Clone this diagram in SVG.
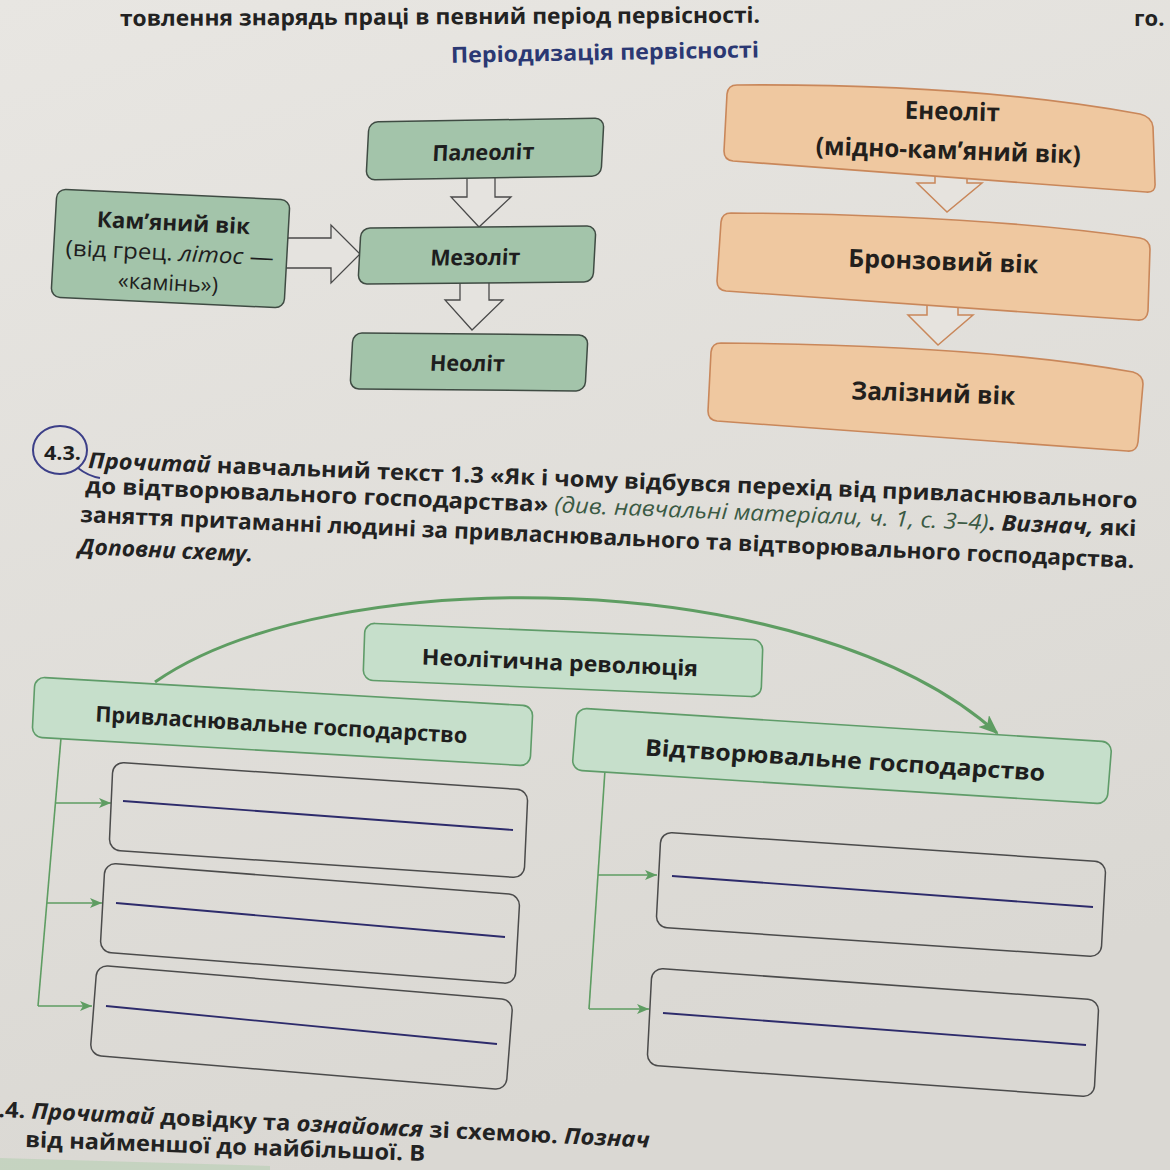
<svg xmlns="http://www.w3.org/2000/svg" width="1170" height="1170" viewBox="0 0 1170 1170">
<defs>
<linearGradient id="paper" x1="0" y1="0" x2="0.3" y2="1">
<stop offset="0" stop-color="#e8e6e2"/>
<stop offset="1" stop-color="#dad8d3"/>
</linearGradient>
<marker id="ah" markerWidth="12" markerHeight="10" refX="12" refY="5" orient="auto" markerUnits="userSpaceOnUse">
<path d="M0,0 L12,5 L0,10 L3,5 Z" fill="#5e9d62"/>
</marker>
<marker id="ahBig" markerWidth="20" markerHeight="16" refX="18" refY="8" orient="auto" markerUnits="userSpaceOnUse">
<path d="M0,0 L20,8 L0,16 L5,8 Z" fill="#5e9d62"/>
</marker>
<style>
text{font-family:"Open Sans","Noto Sans","DejaVu Sans",sans-serif;fill:#1e1e1e}
.lbl{font-weight:700;font-size:22px;text-anchor:middle}
.reg{font-weight:400}
.olbl{font-weight:700;font-size:25px;text-anchor:middle;fill:#231f1c}
.par{font-weight:700;font-size:22px;fill:#222}
.it{font-style:italic}
.src{font-style:italic;font-weight:500;fill:#3a5a44}
.gbox{fill:#a3c4aa;stroke:#3f4b43;stroke-width:1.5}
.lgbox{fill:#c6dfcb;stroke:#5f9c69;stroke-width:1.6}
.obox{fill:#efc8a0;stroke:#c9875a;stroke-width:1.6}
.ebox{fill:none;stroke:#4b4b4b;stroke-width:1.5}
.wline{stroke:#2d2b6b;stroke-width:1.8;fill:none}
.conn{stroke:#5e9d62;stroke-width:1.6;fill:none}
.barr{fill:#e5e3df;stroke:#4a4a4a;stroke-width:1.3}
.oarr{fill:#e6e3de;stroke:#c9875a;stroke-width:1.5}
</style>
</defs>
<rect x="0" y="0" width="1170" height="1170" fill="url(#paper)"/>
<polygon points="0,1158 270,1166 270,1170 0,1170" fill="#bcd0b8" opacity="0.7"/>

<!-- page texts -->
<text class="par" x="120" y="26" textLength="640" lengthAdjust="spacingAndGlyphs" transform="rotate(-0.3 120 26)">товлення знарядь праці в певний період первісності.</text>
<text class="par" x="1134" y="26">го.</text>
<text x="605" y="60" text-anchor="middle" font-weight="700" font-size="22" style="fill:#2b3873" textLength="308" lengthAdjust="spacingAndGlyphs" transform="rotate(-1 605 60)">Періодизація первісності</text>

<g id="task43">
<ellipse cx="60" cy="450" rx="27" ry="24" fill="none" stroke="#3c3f88" stroke-width="2"/>
<path d="M78,468 Q88,476 100,478" fill="none" stroke="#3c3f88" stroke-width="1.8"/>
<text x="44" y="460" font-weight="700" font-size="20" textLength="37" lengthAdjust="spacingAndGlyphs">4.3.</text>
<text class="par" x="88" y="468" textLength="1050" lengthAdjust="spacingAndGlyphs" transform="rotate(2.18 88 468)"><tspan class="it">Прочитай</tspan> навчальний текст 1.3 «Як і чому відбувся перехід від привласнювального</text>
<text class="par" x="85" y="493" textLength="1052" lengthAdjust="spacingAndGlyphs" transform="rotate(2.35 85 493)">до відтворювального господарства» <tspan class="src">(див. навчальні матеріали, ч. 1, с. 3–4)</tspan>. <tspan class="it">Визнач,</tspan> які</text>
<text class="par" x="80" y="522" textLength="1055" lengthAdjust="spacingAndGlyphs" transform="rotate(2.5 80 522)">заняття притаманні людині за привласнювального та відтворювального господарства.</text>
<text class="par it" x="78" y="554" textLength="175" lengthAdjust="spacingAndGlyphs" transform="rotate(2.5 78 554)">Доповни схему.</text>
</g>

<text class="par" x="-2" y="1117" textLength="652" lengthAdjust="spacingAndGlyphs" transform="rotate(2.7 0 1117)">.4. <tspan class="it">Прочитай</tspan> довідку та <tspan class="it">ознайомся</tspan> зі схемою. <tspan class="it">Познач</tspan></text>
<text class="par" x="25" y="1147" textLength="400" lengthAdjust="spacingAndGlyphs" transform="rotate(2 25 1147)">від найменшої до найбільшої. В</text>

<!-- connectors -->
<g id="connectors">
<polygon class="barr" points="284,238 331,238 331,225 360,254 331,283 331,268 284,268"/>
<polygon class="barr" points="467,172 495,172 495,197 511,197 479,227 451,197 467,197"/>
<polygon class="barr" points="460,278 489,278 489,300 503,300 472,330 445,300 460,300"/>
<polygon class="oarr" points="935,165 967,165 967,183 982,183 947,212 917,183 935,183"/>
<polygon class="oarr" points="927,295 958,295 958,315 973,315 938,345 908,315 927,315"/>
<path d="M155,682 C330,560 810,565 997,733" fill="none" stroke="#5e9d62" stroke-width="3" marker-end="url(#ahBig)"/>
<path class="conn" d="M61,738 L38,1006"/>
<path class="conn" d="M55.5,803 L111,803" marker-end="url(#ah)"/>
<path class="conn" d="M47,903 L102,903" marker-end="url(#ah)"/>
<path class="conn" d="M38,1006 L92,1006" marker-end="url(#ah)"/>
<path class="conn" d="M605,770 L589,1009"/>
<path class="conn" d="M598,875 L657,875" marker-end="url(#ah)"/>
<path class="conn" d="M589,1009 L649,1009" marker-end="url(#ah)"/>
</g>

<!-- top-left nodes -->
<g id="paleolit" transform="matrix(1,-0.017,-0.052,1,369,122)">
<rect class="gbox" x="0" y="0" width="235" height="58" rx="9"/>
<text class="lbl" x="116" y="40" textLength="102" lengthAdjust="spacingAndGlyphs">Палеоліт</text>
</g>
<g id="kamianyi" transform="matrix(1,0.047,-0.056,1,57,189)">
<rect class="gbox" x="0" y="0" width="233" height="108" rx="9"/>
<text class="lbl" x="118" y="36" textLength="153" lengthAdjust="spacingAndGlyphs">Кам’яний вік</text>
<text class="lbl reg" x="116" y="66" textLength="208" lengthAdjust="spacingAndGlyphs">(від грец. <tspan class="it">літос</tspan> —</text>
<text class="lbl reg" x="116" y="96" textLength="100" lengthAdjust="spacingAndGlyphs">«камінь»)</text>
</g>
<g id="mezolit" transform="matrix(1,-0.0085,-0.054,1,361,228)">
<rect class="gbox" x="0" y="0" width="235" height="56" rx="9"/>
<text class="lbl" x="116" y="38" textLength="90" lengthAdjust="spacingAndGlyphs">Мезоліт</text>
</g>
<g id="neolit" transform="matrix(1,0.0085,-0.054,1,353,333)">
<rect class="gbox" x="0" y="0" width="235" height="56" rx="9"/>
<text class="lbl" x="116" y="37" textLength="75" lengthAdjust="spacingAndGlyphs">Неоліт</text>
</g>

<!-- top-right nodes -->
<g id="eneolit">
<path class="obox" d="M737,85 C880,84 1020,92 1140,114 Q1152,117 1153,127 L1155,183 Q1156,193 1146,192 L733,161 Q724,160 724,151 L727,94 Q728,85 737,85 Z"/>
<text class="olbl" x="952" y="120" textLength="95" lengthAdjust="spacingAndGlyphs" transform="rotate(1.5 952 120)">Енеоліт</text>
<text class="olbl" x="948" y="159" textLength="265" lengthAdjust="spacingAndGlyphs" transform="rotate(2 948 159)">(мідно-кам’яний вік)</text>
</g>
<g id="bronzovyi">
<path class="obox" d="M731,213 C880,214 1030,222 1140,238 Q1150,240 1150,249 L1148,311 Q1147,321 1137,320 L726,291 Q717,290 717,281 L721,222 Q722,213 731,213 Z"/>
<text class="olbl" x="943" y="270" textLength="190" lengthAdjust="spacingAndGlyphs" transform="rotate(2 943 270)">Бронзовий вік</text>
</g>
<g id="zaliznyi">
<path class="obox" d="M721,343 C870,344 1020,352 1133,372 Q1143,375 1143,384 L1138,442 Q1137,452 1127,451 L717,421 Q708,420 708,411 L711,352 Q712,343 721,343 Z"/>
<text class="olbl" x="933" y="402" textLength="164" lengthAdjust="spacingAndGlyphs" transform="rotate(2 933 402)">Залізний вік</text>
</g>

<!-- lower scheme nodes -->
<g id="neorevoliutsiia" transform="matrix(1,0.0427,-0.035,1,365,623)">
<rect class="lgbox" x="0" y="0" width="398" height="57" rx="10"/>
<text class="lbl" x="196" y="39" textLength="276" lengthAdjust="spacingAndGlyphs">Неолітична революція</text>
</g>
<g id="pryvlasniuvalne" transform="matrix(1,0.0582,-0.05,1,35,677)">
<rect class="lgbox" x="0" y="0" width="498" height="60" rx="10"/>
<text class="lbl" x="248" y="41" textLength="372" lengthAdjust="spacingAndGlyphs">Привласнювальне господарство</text>
</g>
<g id="vidtvoriuvalne" transform="matrix(1,0.0636,-0.081,1,577,708)">
<rect class="lgbox" x="0" y="0" width="535" height="62" rx="10"/>
<text class="lbl" x="271" y="43" style="font-size:23px" textLength="400" lengthAdjust="spacingAndGlyphs">Відтворювальне господарство</text>
</g>

<g id="left1">
<rect class="ebox" x="0" y="0" width="415" height="88" rx="11" transform="matrix(1,0.0675,-0.045,1,113,762)"/>
<path class="wline" d="M123,801 L513,830"/>
</g>
<g id="left2">
<rect class="ebox" x="0" y="0" width="415" height="89" rx="11" transform="matrix(1,0.077,-0.056,1,105,863)"/>
<path class="wline" d="M116,903 L505,937"/>
</g>
<g id="left3">
<rect class="ebox" x="0" y="0" width="416" height="90" rx="11" transform="matrix(1,0.084,-0.078,1,97,965)"/>
<path class="wline" d="M106,1006 L497,1044"/>
</g>
<g id="right1">
<rect class="ebox" x="0" y="0" width="445" height="95" rx="11" transform="matrix(1,0.0674,-0.053,1,661,832)"/>
<path class="wline" d="M672,876 L1093,907"/>
</g>
<g id="right2">
<rect class="ebox" x="0" y="0" width="447" height="97" rx="11" transform="matrix(1,0.0716,-0.052,1,652,968)"/>
<path class="wline" d="M663,1013 L1086,1045"/>
</g>
</svg>
